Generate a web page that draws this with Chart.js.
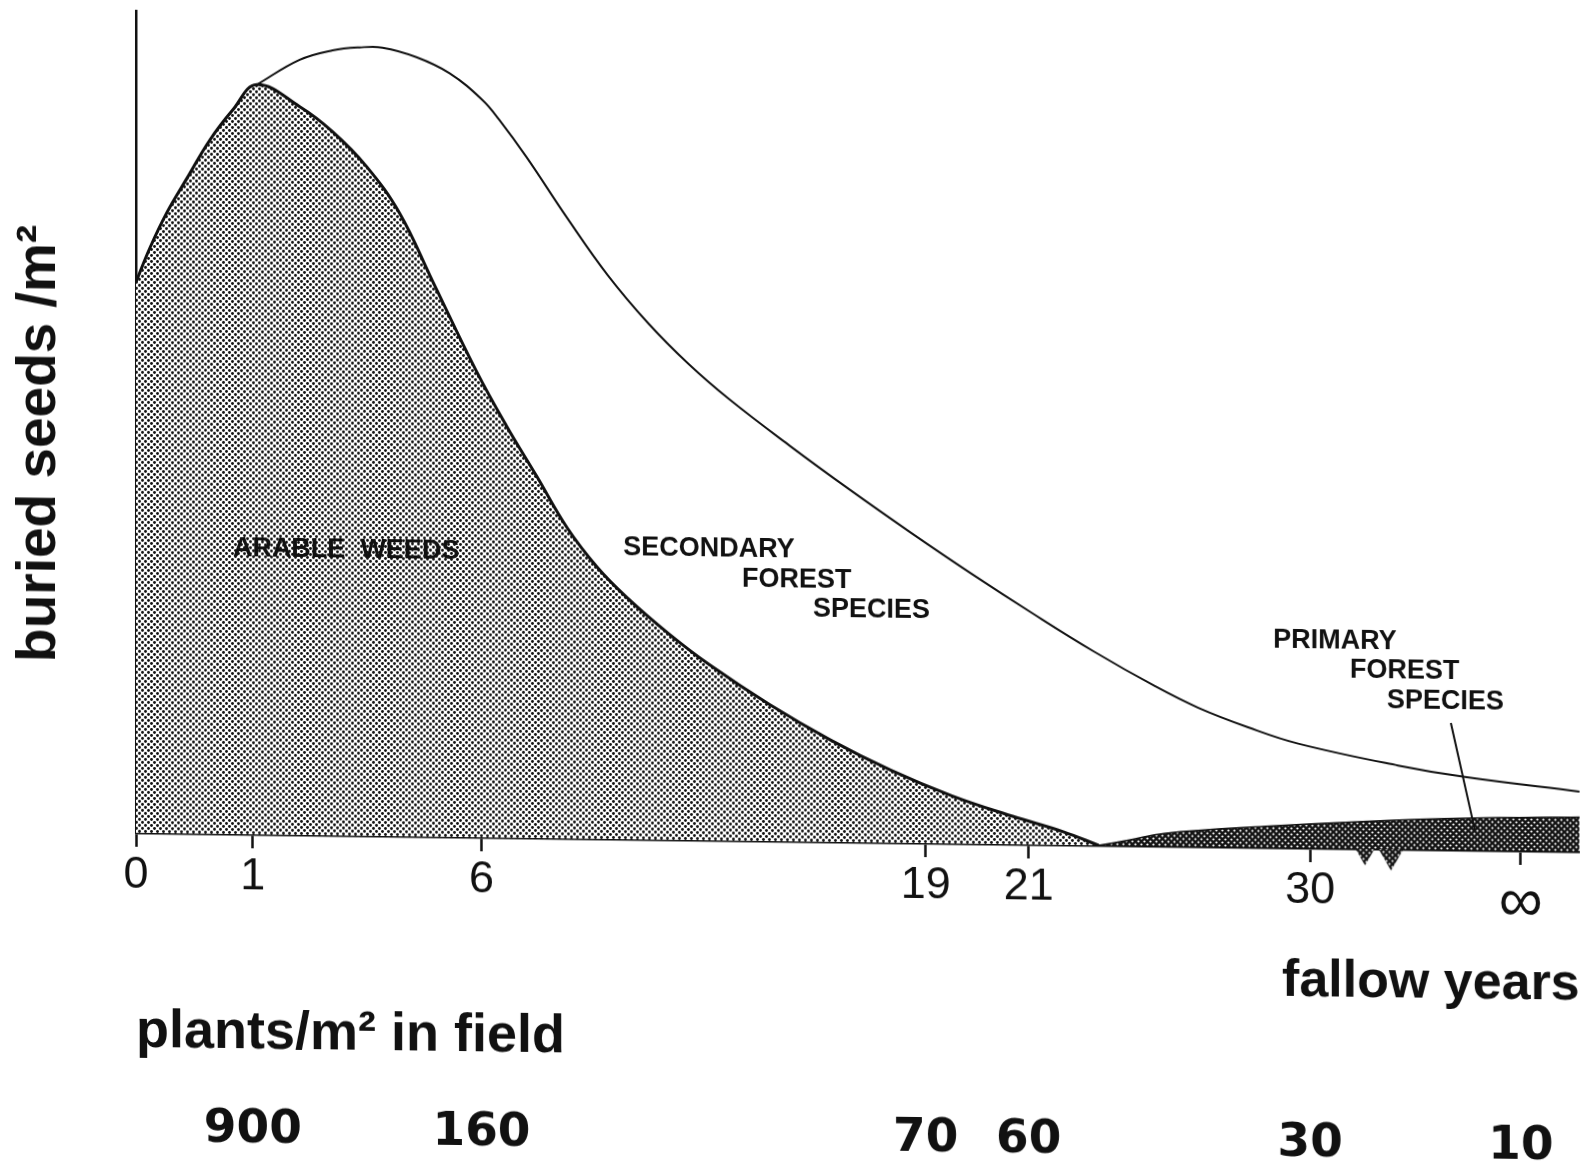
<!DOCTYPE html>
<html><head><meta charset="utf-8">
<script src="https://cdn.jsdelivr.net/npm/chart.js@4.4.1/dist/chart.umd.min.js"></script>
<style>
html,body{margin:0;padding:0;background:#fff;overflow:hidden;}
#wrap{width:1590px;height:1174px;transform:skewY(0.75deg);transform-origin:0 0;}
canvas{display:block;}
</style></head><body>
<div id="wrap"><canvas id="c" width="1590" height="1174"></canvas></div>
<script>
// ---- axis definition (schematic, non-linear axis: position 0-100 along the axis) ----
const yearTickPos = [0, 8.09, 23.93, 54.70, 61.83, 81.33, 95.92];
const yearTickLabels = ['0', '1', '6', '19', '21', '30', '∞'];
const plantTickPos = [8.09, 23.93, 54.70, 61.83, 81.33, 95.92];
const plantTickLabels = ['900', '160', '70', '60', '30', '10'];

// ---- series (x = axis position, y = relative buried seeds, 0-100) ----
const arableX = [0, 0.97, 2.14, 3.53, 5.12, 6.71, 8.37, 11.34, 13.62, 15.98, 18.26, 20.54, 23.55, 25.66, 27.76, 29.86, 31.97, 34.07, 36.87, 39.68, 43.89, 48.10, 52.30, 56.51, 60.72, 64.23, 66.68];
const arableY = [67.0, 71.2, 75.5, 79.7, 84.4, 88.1, 91.2, 88.6, 85.6, 81.4, 75.8, 67.6, 56.8, 50.1, 44.0, 37.8, 33.0, 29.3, 25.1, 21.4, 16.6, 12.4, 8.8, 5.8, 3.4, 1.6, 0];

const secondaryX = [8.37, 11.34, 13.62, 15.49, 17.08, 19.43, 21.72, 24.00, 25.17, 27.06, 29.86, 32.67, 35.48, 38.28, 41.08, 45.30, 49.50, 53.71, 57.91, 62.12, 66.33, 70.54, 73.58, 77.04, 80.50, 87.41, 92.05, 100];
const secondaryY = [91.2, 94.3, 95.5, 95.9, 95.9, 94.8, 92.9, 89.7, 87.3, 82.8, 75.5, 68.6, 62.8, 57.9, 53.7, 48.1, 42.8, 37.7, 32.8, 28.1, 23.6, 19.5, 16.9, 14.6, 12.7, 10.2, 8.9, 7.3];

const primaryX = [66.68, 68.8, 71.22, 78.25, 85.27, 92.25, 100];
const primaryY = [0, 0.7, 1.56, 2.58, 3.36, 3.9, 4.2];

// break marks on the axis (notches)
const notchX = [85.13, 86.93];
const notchY = [-2.0, -2.6];

// leader line for the PRIMARY FOREST SPECIES label
const leaderX = [91.08, 92.74];
const leaderY = [15.45, 2.48];

const notes = [
  {text: 'ARABLE  WEEDS', x: 6.71, y: 34.7},
  {text: 'SECONDARY', x: 33.75, y: 35.4},
  {text: 'FOREST', x: 41.98, y: 31.8},
  {text: 'SPECIES', x: 46.89, y: 28.3},
  {text: 'PRIMARY', x: 78.77, y: 25.2},
  {text: 'FOREST', x: 84.09, y: 21.7},
  {text: 'SPECIES', x: 86.65, y: 18.05}
];

const zip = (xs, ys) => xs.map((x, i) => ({x: x, y: ys[i]}));

const canvas = document.getElementById('c');
const ctx = canvas.getContext('2d');

function dotTile(bg, fg, r) {
  const c = document.createElement('canvas');
  c.width = 6; c.height = 6;
  const g = c.getContext('2d');
  g.fillStyle = bg; g.fillRect(0, 0, 6, 6);
  g.fillStyle = fg;
  [[1.5, 1.5], [4.5, 4.5]].forEach(([px, py]) => { g.beginPath(); g.arc(px, py, r, 0, Math.PI * 2); g.fill(); });
  return c;
}
const lightPat = ctx.createPattern(dotTile('#ffffff', '#111111', 1.45), 'repeat');
const darkTile = dotTile('#141414', '#ffffff', 1.1);
const darkPat = ctx.createPattern(darkTile, 'repeat');

function spike(w, h) {
  const c = document.createElement('canvas');
  c.width = w; c.height = h * 2;
  const g = c.getContext('2d');
  g.fillStyle = g.createPattern(darkTile, 'repeat');
  g.beginPath(); g.moveTo(0, 0); g.lineTo(w, 0); g.lineTo(w / 2, h); g.closePath(); g.fill();
  return c;
}
const spikeImg = spike(30, 26);

const notesPlugin = {
  id: 'notes',
  afterDatasetsDraw(chart) {
    const c = chart.ctx, xs = chart.scales.x, ys = chart.scales.y;
    c.save();
    c.font = 'bold 27px "Liberation Sans", Arial, sans-serif';
    c.fillStyle = '#111';
    c.textAlign = 'left';
    c.textBaseline = 'middle';
    notes.forEach(n => c.fillText(n.text, xs.getPixelForValue(n.x), ys.getPixelForValue(n.y)));
    c.restore();
  }
};

const common = {xAxisID: 'x', yAxisID: 'y', pointRadius: 0, tension: 0.4};

new Chart(ctx, {
  type: 'line',
  data: {
    datasets: [
      Object.assign({}, common, {label: 'leader', data: zip(leaderX, leaderY), borderColor: '#111', borderWidth: 2, fill: false, tension: 0, order: 0}),
      Object.assign({}, common, {label: 'secondary forest species', data: zip(secondaryX, secondaryY), borderColor: '#111', borderWidth: 2, fill: false, order: 1}),
      Object.assign({}, common, {label: 'arable weeds', data: zip(arableX, arableY), borderColor: '#111', borderWidth: 3, backgroundColor: lightPat, fill: 'origin', order: 2}),
      Object.assign({}, common, {label: 'primary forest species', data: zip(primaryX, primaryY), borderColor: '#111', borderWidth: 1.5, backgroundColor: darkPat, fill: 'origin', order: 3}),
      Object.assign({}, common, {label: 'notches', data: zip(notchX, notchY), showLine: false, pointRadius: 28, pointStyle: spikeImg, clip: false, fill: false, order: 4})
    ]
  },
  options: {
    responsive: false,
    animation: false,
    devicePixelRatio: 1,
    events: [],
    layout: {autoPadding: false, padding: {top: 9, right: 2, bottom: 0, left: 0}},
    plugins: {legend: {display: false}, tooltip: {enabled: false}},
    scales: {
      x: {
        type: 'linear', axis: 'x', position: 'bottom', weight: 0, min: 0, max: 100,
        afterBuildTicks: s => { s.ticks = yearTickPos.map(v => ({value: v})); },
        afterFit: s => { s.height = 165; },
        ticks: {
          autoSkip: false, maxRotation: 0, minRotation: 0, padding: 2, color: '#111',
          font: c => ({family: '"Liberation Sans", Arial, sans-serif', size: c.index === 6 ? 62 : 45}),
          callback: (v, i) => yearTickLabels[i]
        },
        grid: {display: true, drawOnChartArea: false, drawTicks: true, tickLength: 14, tickWidth: 2.5, tickColor: '#111', color: '#111'},
        border: {display: true, color: '#111', width: 2.5},
        title: {display: true, text: 'fallow years', align: 'end', color: '#111',
          font: {family: '"Liberation Sans", Arial, sans-serif', size: 52, weight: 'bold'}, padding: {top: 0, bottom: 0}}
      },
      xt: {
        type: 'linear', axis: 'x', position: 'bottom', weight: 1, min: 0, max: 100,
        afterFit: s => { s.height = 67; },
        ticks: {display: false},
        grid: {display: false, drawTicks: false},
        border: {display: false},
        title: {display: true, text: 'plants/m² in field', align: 'start', color: '#111',
          font: {family: '"Liberation Sans", Arial, sans-serif', size: 54, weight: 'bold'}, padding: {top: 0, bottom: 0}}
      },
      x2: {
        type: 'linear', axis: 'x', position: 'bottom', weight: 2, min: 0, max: 100,
        afterBuildTicks: s => { s.ticks = plantTickPos.map(v => ({value: v})); },
        afterFit: s => { s.height = 111; },
        ticks: {
          autoSkip: false, maxRotation: 0, minRotation: 0, padding: 36, color: '#111',
          font: {family: '"DejaVu Sans", sans-serif', size: 47, weight: 'bold'},
          callback: (v, i) => plantTickLabels[i]
        },
        grid: {display: false, drawTicks: false},
        border: {display: false}
      },
      y: {
        type: 'linear', position: 'left', min: 0, max: 100,
        afterFit: s => { s.width = 136; },
        ticks: {display: false},
        grid: {display: false, drawTicks: false},
        border: {display: true, color: '#111', width: 2.5},
        title: {display: true, text: 'buried seeds /m²   ', align: 'center', color: '#111',
          font: {family: '"Liberation Sans", Arial, sans-serif', size: 55, weight: 'bold'}, padding: {top: 7, bottom: 0}}
      }
    }
  },
  plugins: [notesPlugin]
});
</script>
</body></html>
